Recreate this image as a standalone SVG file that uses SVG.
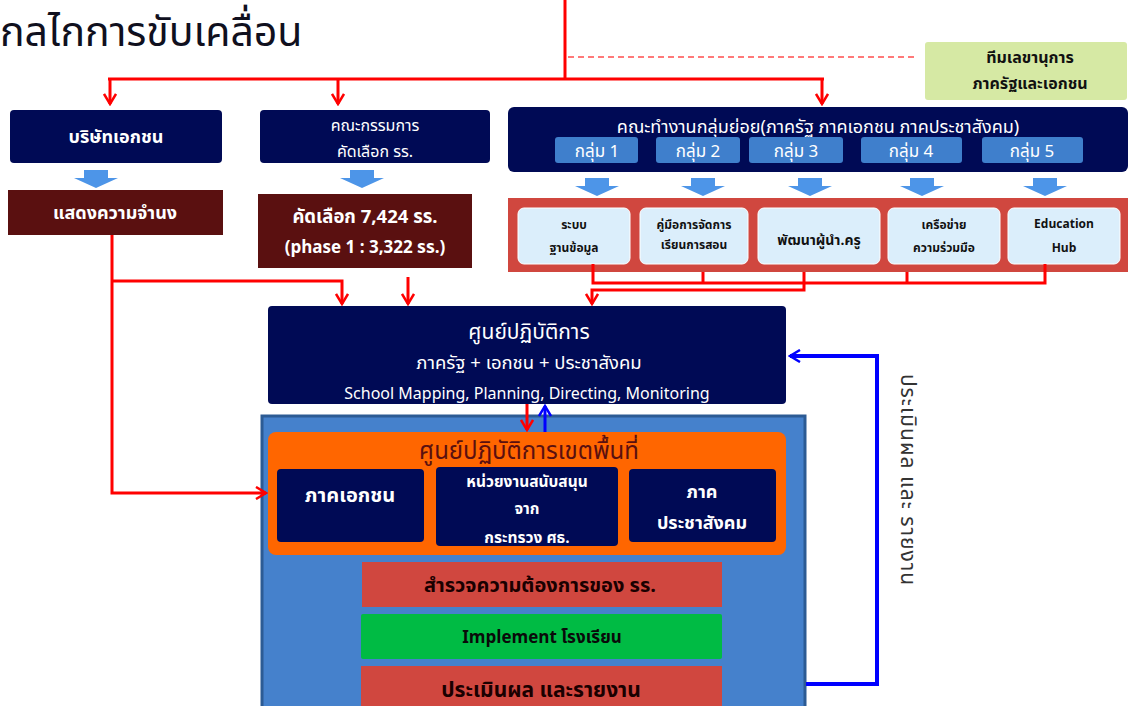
<svg xmlns="http://www.w3.org/2000/svg" width="1131" height="706" viewBox="0 0 1131 706">
<defs>
<style>
text{font-family:"Noto Sans Thai","Noto Sans Thai UI","Tahoma","Leelawadee UI","Liberation Sans",sans-serif;}
.w{fill:#ffffff;font-weight:bold;text-anchor:middle}
.wn{fill:#ffffff;font-weight:normal;text-anchor:middle}
.d{fill:#111111;font-weight:bold;text-anchor:middle}
.navy{fill:#000a55}
.maroon{fill:#5a1010}
.lb{fill:#dbeefb;stroke:#ffffff;stroke-width:1}
.grp{fill:#3f7fcc}
.ba{fill:#4d95e8}
.r{fill:none;stroke:#ff0000;stroke-width:3}
.b{fill:none;stroke:#0000ff;stroke-width:4}
</style>
<marker id="ar" viewBox="0 0 14 14" refX="12" refY="7" markerWidth="14" markerHeight="14" markerUnits="userSpaceOnUse" orient="auto"><path d="M2,1 L12,7 L2,13" fill="none" stroke="#ff0000" stroke-width="2.5"/></marker>
<marker id="ab" viewBox="0 0 14 14" refX="12" refY="7" markerWidth="14" markerHeight="14" markerUnits="userSpaceOnUse" orient="auto"><path d="M2,1 L12,7 L2,13" fill="none" stroke="#0000ff" stroke-width="2.5"/></marker>
</defs>
<rect width="1131" height="706" fill="#ffffff"/>

<g id="title"><text x="0" y="46" font-size="41" fill="#10101e">กลไกการขับเคลื่อน</text></g>

<g id="secretariat">
<rect x="925" y="42" width="202" height="58" rx="3" fill="#d6e9a4"/>
<text class="d" x="1030" y="63" font-size="16">ทีมเลขานุการ</text>
<text class="d" x="1030" y="89" font-size="16">ภาครัฐและเอกชน</text>
</g>

<g id="private">
<rect class="navy" x="10" y="110" width="212" height="53" rx="4"/>
<text class="w" x="116" y="143" font-size="18">บริษัทเอกชน</text>
</g>
<g id="intent">
<rect class="maroon" x="8" y="190" width="215" height="45"/>
<text class="w" x="115" y="219" font-size="18">แสดงความจำนง</text>
</g>
<g id="committee">
<rect class="navy" x="260" y="110" width="230" height="53" rx="4"/>
<text class="wn" x="375" y="131" font-size="16">คณะกรรมการ</text>
<text class="wn" x="375" y="157" font-size="16">คัดเลือก รร.</text>
</g>
<g id="selected">
<rect class="maroon" x="258" y="194" width="214" height="74"/>
<text class="w" x="365" y="223" font-size="18.5">คัดเลือก 7,424 รร.</text>
<text class="w" x="365" y="253" font-size="17">(phase 1 : 3,322 รร.)</text>
</g>

<g id="blockarrows">
<polygon class="ba" points="84,170 108,170 108,178 118,178 96,188 74,178 84,178"/>
<polygon class="ba" points="350,170 374,170 374,178 384,178 362,188 340,178 350,178"/>
<polygon class="ba" points="585,178 609,178 609,186 619,186 597,196 575,186 585,186"/>
<polygon class="ba" points="691,178 715,178 715,186 725,186 703,196 681,186 691,186"/>
<polygon class="ba" points="798,178 822,178 822,186 832,186 810,196 788,186 798,186"/>
<polygon class="ba" points="910,178 934,178 934,186 944,186 922,196 900,186 910,186"/>
<polygon class="ba" points="1033,178 1057,178 1057,186 1067,186 1045,196 1023,186 1033,186"/>
</g>

<g id="workgroups">
<rect class="navy" x="508" y="107" width="620" height="65" rx="6"/>
<text class="wn" x="818" y="133" font-size="18">คณะทำงานกลุ่มย่อย(ภาครัฐ ภาคเอกชน ภาคประชาสังคม)</text>
<rect class="grp" x="555" y="137" width="83" height="26" rx="3"/>
<text class="wn" x="597" y="157" font-size="17">กลุ่ม 1</text>
<rect class="grp" x="656" y="137" width="84" height="26" rx="3"/>
<text class="wn" x="698" y="157" font-size="17">กลุ่ม 2</text>
<rect class="grp" x="749" y="137" width="94" height="26" rx="3"/>
<text class="wn" x="796" y="157" font-size="17">กลุ่ม 3</text>
<rect class="grp" x="861" y="137" width="101" height="26" rx="3"/>
<text class="wn" x="911" y="157" font-size="17">กลุ่ม 4</text>
<rect class="grp" x="982" y="137" width="101" height="26" rx="3"/>
<text class="wn" x="1032" y="157" font-size="17">กลุ่ม 5</text>
</g>

<g id="outputs">
<rect x="508" y="198" width="620" height="74" fill="#d0473f"/>
<rect class="lb" x="518" y="208" width="112" height="56" rx="6"/>
<text class="d" x="574" y="229" font-size="12">ระบบ</text>
<text class="d" x="574" y="252" font-size="12">ฐานข้อมูล</text>
<rect class="lb" x="640" y="208" width="108" height="56" rx="6"/>
<text class="d" x="694" y="229" font-size="12">คู่มือการจัดการ</text>
<text class="d" x="694" y="249" font-size="12">เรียนการสอน</text>
<rect class="lb" x="758" y="208" width="122" height="56" rx="6"/>
<text class="d" x="819" y="245" font-size="14">พัฒนาผู้นำ.ครู</text>
<rect class="lb" x="888" y="208" width="112" height="56" rx="6"/>
<text class="d" x="944" y="229" font-size="12">เครือข่าย</text>
<text class="d" x="944" y="252" font-size="12">ความร่วมมือ</text>
<rect class="lb" x="1008" y="208" width="112" height="56" rx="6"/>
<text class="d" x="1064" y="228" font-size="12">Education</text>
<text class="d" x="1064" y="252" font-size="12">Hub</text>
</g>

<g id="opcenter">
<rect class="navy" x="268" y="306" width="518" height="98" rx="4"/>
<text class="wn" x="529" y="339" font-size="21">ศูนย์ปฏิบัติการ</text>
<text class="wn" x="529" y="369" font-size="18.5">ภาครัฐ + เอกชน + ประชาสังคม</text>
<text class="wn" x="527" y="399" font-size="16">School Mapping, Planning, Directing, Monitoring</text>
</g>

<g id="areacontainer">
<rect x="262" y="416" width="543" height="300" fill="#4581cc" stroke="#2c5b94" stroke-width="3"/>
</g>

<g id="areacenter">
<rect x="268" y="432" width="518" height="123" rx="8" fill="#ff6600"/>
<text x="529" y="459" fill="#5a1010" font-size="24" text-anchor="middle">ศูนย์ปฏิบัติการเขตพื้นที่</text>
<rect class="navy" x="277" y="469" width="147" height="73" rx="4"/>
<text class="w" x="350" y="502" font-size="20">ภาคเอกชน</text>
<rect class="navy" x="436" y="467" width="182" height="79" rx="4"/>
<text class="w" x="527" y="487" font-size="15.5">หน่วยงานสนับสนุน</text>
<text class="w" x="527" y="514" font-size="15.5">จาก</text>
<text class="w" x="527" y="543" font-size="15.5">กระทรวง ศธ.</text>
<rect class="navy" x="629" y="469" width="147" height="73" rx="4"/>
<text class="w" x="702" y="498" font-size="18">ภาค</text>
<text class="w" x="702" y="529" font-size="18">ประชาสังคม</text>
</g>

<g id="survey">
<rect x="362" y="562" width="360" height="45" fill="#d0473f"/>
<text x="540" y="592" fill="#1a0000" font-size="20" font-weight="bold" text-anchor="middle">สำรวจความต้องการของ รร.</text>
</g>
<g id="implement">
<rect x="361" y="614" width="361" height="45" rx="2" fill="#00bb44"/>
<text x="542" y="643" fill="#0a0a0a" font-size="17" font-weight="bold" text-anchor="middle">Implement โรงเรียน</text>
</g>
<g id="evaluate">
<rect x="361" y="666" width="361" height="50" fill="#d0473f"/>
<text x="541" y="697" fill="#1a0000" font-size="21" font-weight="bold" text-anchor="middle">ประเมินผล และรายงาน</text>
</g>

<g id="feedbacklabel">
<text transform="translate(901,480) rotate(90)" font-size="21" letter-spacing="1" fill="#333333" text-anchor="middle">ประเมินผล และ รายงาน</text>
</g>

<g id="connectors">
<path class="r" d="M565,0 V79"/>
<path class="r" d="M108,79 H824"/>
<path class="r" d="M110,79 V104" marker-end="url(#ar)"/>
<path class="r" d="M338,79 V104" marker-end="url(#ar)"/>
<path class="r" d="M822,79 V104" marker-end="url(#ar)"/>
<path d="M568,57 H918" fill="none" stroke="#ff4d4d" stroke-width="1.5" stroke-dasharray="6,4"/>
<path class="r" d="M112,235 V493 H266" marker-end="url(#ar)"/>
<path class="r" d="M112,281 H342 V304" marker-end="url(#ar)"/>
<path class="r" d="M408,277 V304" marker-end="url(#ar)"/>
<path class="r" d="M593,264 V283 H1045 V264"/>
<path class="r" d="M703,272 V283"/>
<path class="r" d="M907,272 V283"/>
<path class="r" d="M804,272 V290 H592 V304" marker-end="url(#ar)"/>
<path class="r" d="M527,404 V430" marker-end="url(#ar)"/>
<path d="M545,432 V406" fill="none" stroke="#0000ff" stroke-width="3" marker-end="url(#ab)"/>
<path class="b" d="M806,684 H877 V356 H790" marker-end="url(#ab)"/>
</g>
</svg>
